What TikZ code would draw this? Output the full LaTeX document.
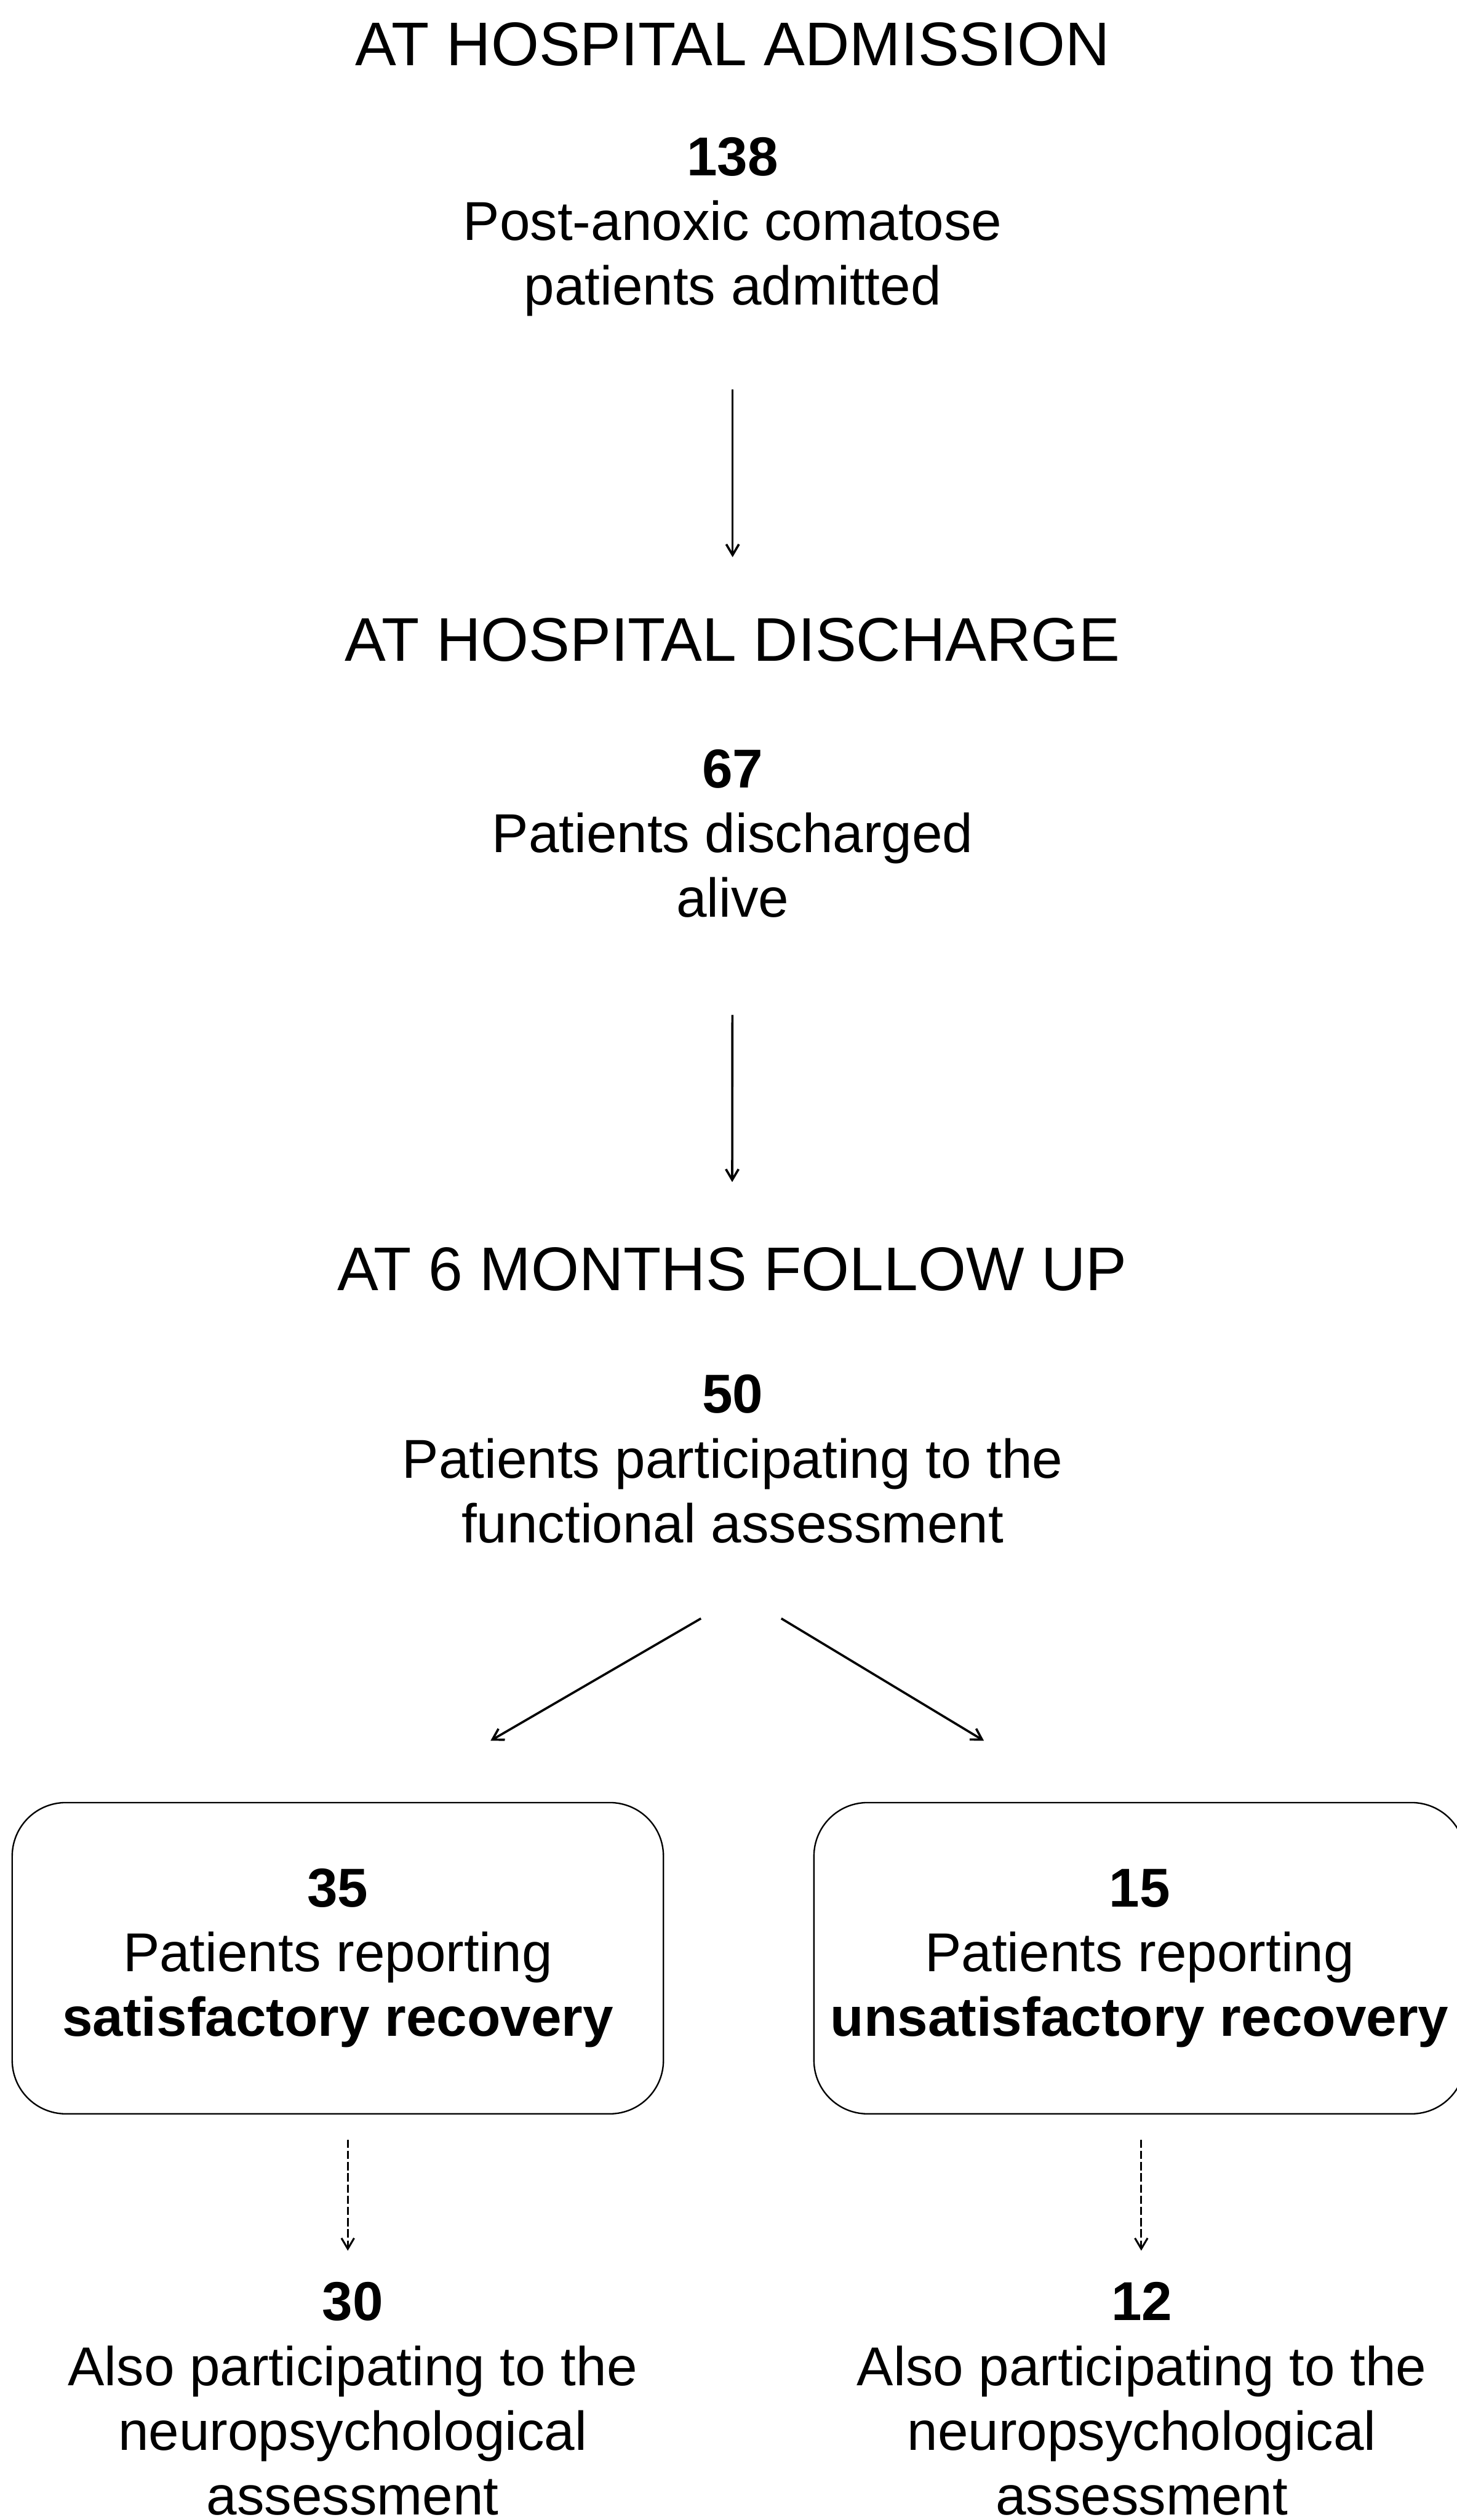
\documentclass[tikz,border=0pt]{standalone}
\usepackage{fontspec}
\setmainfont{Liberation Sans}
\usetikzlibrary{arrows.meta}

\begin{document}
\begin{tikzpicture}[
    head/.style={font=\fontsize{36}{43}\selectfont, inner sep=0pt, anchor=base},
    txt/.style={font=\fontsize{32}{37.8}\selectfont, align=center, inner sep=0pt, anchor=base},
    panel/.style={draw, line width=0.85pt, rounded corners=1.1cm, minimum width=13.37cm, minimum height=6.39cm, inner sep=0pt, align=center, font=\fontsize{32}{37.8}\selectfont},
    arr/.style={line width=1.3pt, -{Straight Barb[length=2.2mm,width=2.6mm]}},
    darr/.style={line width=1.1pt, dash pattern=on 1.7mm off 0.6mm, -{Straight Barb[length=2.2mm,width=2.6mm]}}
  ]
        \useasboundingbox (0,0) rectangle (29.90,-51.74);
        \node[head] (t1) at (15.04,-1.35) {AT HOSPITAL ADMISSION};
        \node[txt] (b1) at (15.04,-6.26) {\textbf{138}\\Post-anoxic comatose\\patients admitted};
        \node[head] (t2) at (15.04,-13.57) {AT HOSPITAL DISCHARGE};
        \node[txt] (b2) at (15.04,-18.83) {\textbf{67}\\Patients discharged\\alive};
        \node[head] (t3) at (15.03,-26.50) {AT 6 MONTHS FOLLOW UP};
        \node[txt] (b3) at (15.04,-31.67) {\textbf{50}\\Patients participating to the\\functional assessment};
        \node[panel] (boxL) at (6.935,-40.205) {\textbf{35}\\Patients reporting\\\textbf{satisfactory recovery}};
        \node[panel] (boxR) at (23.395,-40.205) {\textbf{15}\\Patients reporting\\\textbf{unsatisfactory recovery}};
        \node[txt] (nL) at (7.24,-51.63) {\textbf{30}\\Also participating to the\\neuropsychological\\assessment};
        \node[txt] (nR) at (23.44,-51.63) {\textbf{12}\\Also participating to the\\neuropsychological\\assessment};
        \coordinate (dL0) at (14.39,-33.23);
        \coordinate (dL1) at (10.07,-35.74);
        \coordinate (dR0) at (16.04,-33.23);
        \coordinate (dR1) at (20.20,-35.74);
        \coordinate (sL0) at (7.14,-43.93);
        \coordinate (sL1) at (7.14,-46.21);
        \coordinate (sR0) at (23.43,-43.93);
        \coordinate (sR1) at (23.43,-46.21);
        \draw[arr, shorten <=1.50cm, shorten >=1.24cm] (b1) -- (t2);
        \draw[arr, shorten <=1.99cm, shorten >=1.34cm] (b2) -- (t3);
        \draw[arr] (dL0) -- (dL1);
        \draw[arr] (dR0) -- (dR1);
        \draw[darr] (sL0) -- (sL1);
        \draw[darr] (sR0) -- (sR1);
    \end{tikzpicture}
\end{document}
